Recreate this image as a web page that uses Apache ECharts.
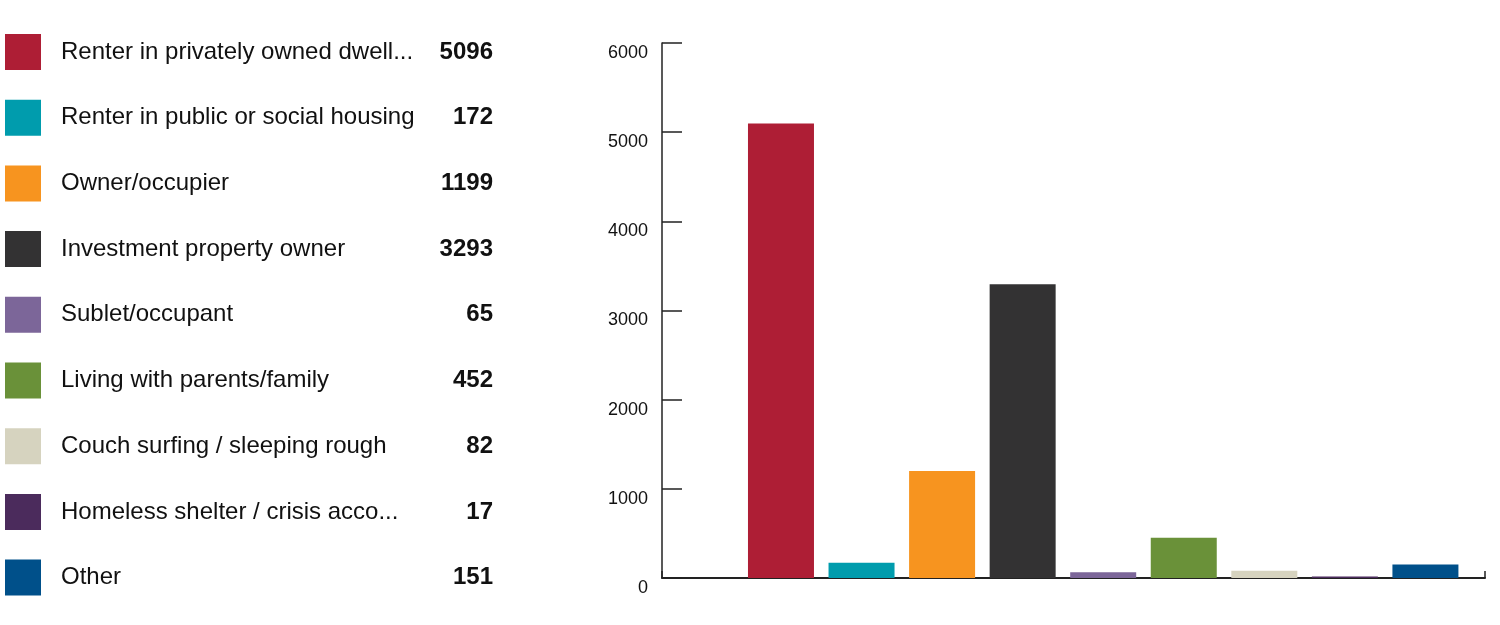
<!DOCTYPE html>
<html>
<head>
<meta charset="utf-8">
<script src="https://cdn.jsdelivr.net/npm/echarts@6/dist/echarts.min.js"></script>
<style>
  html, body { margin: 0; padding: 0; background: #fff; }
  #chart { width: 1500px; height: 625px; }
</style>
</head>
<body>
<div id="chart"></div>
<script>
// 分类
const categories = [
  'Renter in privately owned dwelling',
  'Renter in public or social housing',
  'Owner/occupier',
  'Investment property owner',
  'Sublet/occupant',
  'Living with parents/family',
  'Couch surfing / sleeping rough',
  'Homeless shelter / crisis accommodation',
  'Other'
]
// 数值
const counts = [5096, 172, 1199, 3293, 65, 452, 82, 17, 151]
// 颜色
const colors = ['#ae1e35', '#009cad', '#f7941f', '#333233', '#7c6699', '#6a9139', '#d6d3bf', '#4b2b5c', '#00508a']
// y轴刻度
const yTicks = [0, 1000, 2000, 3000, 4000, 5000, 6000]

const FONT = 'Liberation Sans, Arial, sans-serif'
const myChart = echarts.init(document.querySelector('#chart'))

// 图例名字太长就截断
const shortName = name => echarts.format.truncateText(name, 360, '24px ' + FONT, '...')

// 每个分类一个 series，叠在同一个 stack 上，这样图例能直接用
const barSeries = categories.map((name, i) => ({
  name: name,
  type: 'bar',
  stack: 'all',
  xAxisIndex: 1,
  yAxisIndex: 1,
  barWidth: 66,
  itemStyle: { color: colors[i] },
  data: counts.map((v, j) => (j === i ? v : '-'))
}))

const option = {
  animation: false,
  textStyle: { fontFamily: FONT },
  legend: {
    orient: 'vertical',
    left: 5,
    top: 34,
    padding: 0,
    icon: 'rect',
    itemWidth: 36,
    itemHeight: 36,
    itemGap: 29.7,
    selectedMode: false,
    data: categories,
    formatter: name => `{n|${shortName(name)}}{v|${counts[categories.indexOf(name)]}}`,
    textStyle: {
      rich: {
        n: {
          width: 371,
          padding: [0, 0, 0, 15],
          fontSize: 24,
          color: '#111',
          lineHeight: 36
        },
        v: {
          width: 61,
          align: 'right',
          fontSize: 24,
          fontWeight: 'bold',
          color: '#111',
          lineHeight: 36
        }
      }
    },
    itemStyle: { borderWidth: 0 }
  },
  grid: [
    // 坐标轴
    { left: 662, right: 15, top: 43, bottom: 47 },
    // 柱子
    { left: 740.7, right: 34.3, top: 43, bottom: 47 }
  ],
  xAxis: [
    {
      gridIndex: 0,
      type: 'value',
      min: 0,
      max: 1,
      interval: 1,
      axisLine: { lineStyle: { color: '#222', width: 2 } },
      axisTick: { inside: true, length: 7, lineStyle: { color: '#222', width: 1.5 } },
      axisLabel: { show: false },
      splitLine: { show: false }
    },
    {
      gridIndex: 1,
      type: 'category',
      data: categories,
      show: false
    }
  ],
  yAxis: [
    {
      gridIndex: 0,
      type: 'value',
      min: yTicks[0],
      max: yTicks[yTicks.length - 1],
      interval: 1000,
      axisLine: { show: true, lineStyle: { color: '#222', width: 1.5 } },
      axisTick: { show: true, inside: true, length: 20, lineStyle: { color: '#222', width: 1.5 } },
      axisLabel: {
        color: '#111',
        fontSize: 18,
        margin: 14,
        verticalAlign: 'top',
        padding: [1, 0, 0, 0],
        formatter: v => String(v)
      },
      splitLine: { show: false }
    },
    {
      gridIndex: 1,
      type: 'value',
      min: yTicks[0],
      max: yTicks[yTicks.length - 1],
      show: false,
      splitLine: { show: false }
    }
  ],
  series: barSeries
}

myChart.setOption(option)
</script>
</body>
</html>
